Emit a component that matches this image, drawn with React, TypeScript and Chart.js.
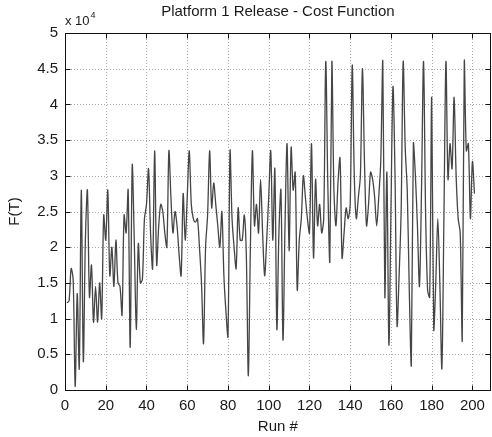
import React, { useEffect, useRef } from "react";
import { Chart, registerables } from "chart.js";

Chart.register(...registerables);

// Chart text
const TITLE = "Platform 1 Release - Cost Function";
const X_TITLE = "Run #";
const Y_TITLE = "F(T)";
const Y_EXPONENT = "4"; // values shown as x 10^4

// Axis ticks
const X_TICKS = [0, 20, 40, 60, 80, 100, 120, 140, 160, 180, 200];
const Y_TICKS = [0, 0.5, 1, 1.5, 2, 2.5, 3, 3.5, 4, 4.5, 5];

// Run numbers 1..201
const RUNS = Array.from({ length: 201 }, (_, i) => i + 1);

// F(T) per run, in units of 10^4
const COST_1_50 = [
  1.22, 1.25, 1.7, 1.55, 0.05, 1.35, 0.3, 2.8, 0.4, 2.1,
  2.8, 1.3, 1.75, 0.95, 1.45, 0.95, 1.5, 1.0, 2.45, 2.1,
  2.8, 1.6, 2.0, 1.45, 2.1, 1.5, 1.45, 1.05, 2.45, 2.2,
  2.8, 0.6, 3.15, 2.1, 0.85, 2.05, 1.5, 1.55, 2.4, 2.6,
  3.1, 2.2, 1.7, 3.35, 1.75, 2.3, 2.6, 2.5, 2.2, 2.0,
];
const COST_51_100 = [
  3.35, 2.7, 2.2, 2.5, 2.3, 1.9, 1.6, 2.75, 2.1, 2.7,
  3.35, 2.6, 2.4, 2.35, 2.4, 2.0, 1.5, 0.65, 2.0, 2.45,
  3.35, 2.55, 2.9, 2.6, 2.3, 2.0, 2.5, 1.6, 1.1, 0.75,
  3.35, 2.4, 2.0, 1.7, 2.55, 2.1, 2.1, 2.45, 1.9, 0.2,
  2.0, 3.35, 2.3, 2.6, 2.2, 2.95, 2.2, 1.6, 2.1, 2.7,
];
const COST_101_150 = [
  3.35, 2.1, 3.1, 0.85, 2.2, 2.8, 0.7, 2.3, 3.45, 1.95,
  3.4, 2.8, 3.05, 1.4, 2.1, 2.4, 3.0, 2.7, 2.4, 2.2,
  3.45, 1.85, 2.95, 2.3, 2.6, 2.2, 2.4, 4.6, 2.9, 1.8,
  4.6, 2.8, 2.3, 2.9, 3.25, 1.85, 2.2, 2.55, 2.4, 2.6,
  4.55, 3.0, 2.4, 2.7, 3.0, 4.5, 3.2, 2.3, 2.6, 3.05,
];
const COST_151_201 = [
  2.95, 2.7, 2.3, 2.7, 3.2, 4.6, 1.3, 3.05, 0.63, 2.5,
  4.25, 3.0, 0.9, 1.6, 2.5, 4.6, 3.4, 2.8, 1.4, 0.35,
  3.45, 3.0, 2.3, 1.45, 2.8, 4.6, 2.5, 1.4, 1.3, 4.1,
  0.85, 1.5, 2.4, 1.5, 0.3, 2.4, 4.6, 2.95, 3.45, 3.1,
  4.1, 3.0, 2.4, 2.2, 0.7, 4.6, 3.35, 3.45, 2.4, 3.2,
  2.75,
];
const COST = [...COST_1_50, ...COST_51_100, ...COST_101_150, ...COST_151_201];

const FONT = "'Liberation Sans', Arial, Helvetica, sans-serif";
const TEXT_COLOR = "#1a1a1a";

const matlabFrame = {
  id: "matlabFrame",
  beforeDatasetsDraw(chart: any) {
    const { ctx, chartArea: a, scales } = chart;
    ctx.save();
    ctx.strokeStyle = "#a8a8a8";
    ctx.lineWidth = 1;
    ctx.setLineDash([1, 2]);
    for (const v of X_TICKS) {
      const px = Math.round(scales.x.getPixelForValue(v)) + 0.5;
      if (px <= a.left + 1 || px >= a.right - 1) continue;
      ctx.beginPath();
      ctx.moveTo(px, a.top);
      ctx.lineTo(px, a.bottom);
      ctx.stroke();
    }
    for (const v of Y_TICKS) {
      const py = Math.round(scales.y.getPixelForValue(v)) + 0.5;
      if (py <= a.top + 1 || py >= a.bottom - 1) continue;
      ctx.beginPath();
      ctx.moveTo(a.left, py);
      ctx.lineTo(a.right, py);
      ctx.stroke();
    }
    ctx.restore();
  },
  afterDatasetsDraw(chart: any) {
    const { ctx, chartArea: a, scales } = chart;
    ctx.save();
    ctx.setLineDash([]);
    ctx.strokeStyle = "#111";
    ctx.lineWidth = 1;
    const L = Math.round(a.left) + 0.5;
    const R = Math.round(a.right) - 0.5;
    const T = Math.round(a.top) + 0.5;
    const B = Math.round(a.bottom) + 0.5;
    ctx.strokeRect(L, T, R - L, B - T);
    const tl = 5;
    ctx.beginPath();
    for (const v of X_TICKS) {
      const px = Math.round(scales.x.getPixelForValue(v)) + 0.5;
      ctx.moveTo(px, B);
      ctx.lineTo(px, B - tl);
      ctx.moveTo(px, T);
      ctx.lineTo(px, T + tl);
    }
    for (const v of Y_TICKS) {
      const py = Math.round(scales.y.getPixelForValue(v)) + 0.5;
      ctx.moveTo(L, py);
      ctx.lineTo(L + tl, py);
      ctx.moveTo(R, py);
      ctx.lineTo(R - tl, py);
    }
    ctx.stroke();
    // exponent label
    ctx.fillStyle = TEXT_COLOR;
    ctx.textBaseline = "alphabetic";
    ctx.textAlign = "left";
    ctx.font = `13px ${FONT}`;
    const base = "x 10";
    ctx.fillText(base, a.left, a.top - 8);
    const w = ctx.measureText(base).width;
    ctx.font = `9px ${FONT}`;
    ctx.fillText(Y_EXPONENT, a.left + w + 1, a.top - 15);
    ctx.restore();
  },
};

export default function App() {
  const ref = useRef<HTMLCanvasElement | null>(null);

  useEffect(() => {
    if (!ref.current) return;
    Chart.defaults.font.family = FONT;
    const chart = new Chart(ref.current, {
      type: "line",
      data: {
        datasets: [
          {
            label: Y_TITLE,
            data: RUNS.map((r, i) => ({ x: r, y: COST[i] })),
            borderColor: "#454545",
            borderWidth: 1.3,
            pointRadius: 0,
            tension: 0.3,
            fill: false,
          },
        ],
      },
      options: {
        responsive: false,
        animation: false,
        devicePixelRatio: 1,
        layout: { padding: { left: 0, right: 1, top: 0, bottom: 0 } },
        plugins: {
          legend: { display: false },
          tooltip: { enabled: false },
          title: {
            display: true,
            text: TITLE,
            fullSize: false,
            color: TEXT_COLOR,
            font: { size: 15, weight: "normal", family: FONT },
            padding: { top: 3, bottom: 12 },
          },
        },
        scales: {
          x: {
            type: "linear",
            min: 0,
            max: 209,
            grid: { display: false, drawTicks: false },
            border: { display: false },
            afterFit: (s: any) => {
              s.height = 47;
            },
            afterBuildTicks: (s: any) => {
              s.ticks = X_TICKS.map((v) => ({ value: v }));
            },
            ticks: {
              color: TEXT_COLOR,
              font: { size: 15, family: FONT },
              padding: 7,
              maxRotation: 0,
              autoSkip: false,
              callback: (v: any) => String(v),
            },
            title: {
              display: true,
              text: X_TITLE,
              color: TEXT_COLOR,
              font: { size: 15, family: FONT },
              padding: { top: 0, bottom: 1 },
            },
          },
          y: {
            type: "linear",
            min: 0,
            max: 5,
            grid: { display: false, drawTicks: false },
            border: { display: false },
            afterFit: (s: any) => {
              s.width = 65;
            },
            afterBuildTicks: (s: any) => {
              s.ticks = Y_TICKS.map((v) => ({ value: v }));
            },
            ticks: {
              color: TEXT_COLOR,
              font: { size: 15, family: FONT },
              padding: 7,
              autoSkip: false,
              callback: (v: any) => String(v),
            },
            title: {
              display: true,
              text: Y_TITLE,
              color: TEXT_COLOR,
              font: { size: 15, family: FONT },
              padding: { top: 6, bottom: 0 },
            },
          },
        },
      },
      plugins: [matlabFrame],
    });
    return () => chart.destroy();
  }, []);

  return (
    <div style={{ position: "fixed", left: 0, top: 0, width: 492, height: 437, background: "#fff" }}>
      <canvas ref={ref} width={492} height={437} style={{ display: "block" }} />
    </div>
  );
}
